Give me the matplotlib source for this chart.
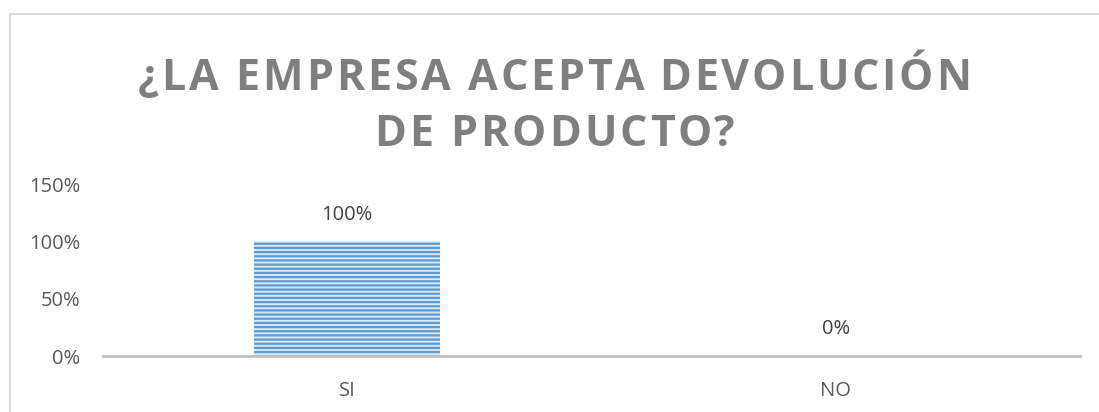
import matplotlib
matplotlib.use("Agg")
import matplotlib.pyplot as plt
from matplotlib.lines import Line2D
from matplotlib.transforms import IdentityTransform

categories = ["SI", "NO"]
values = [1.00, 0.00]
value_labels = ["100%", "0%"]
yticks = [0, 0.5, 1.0, 1.5]
ytick_labels = ["0%", "50%", "100%", "150%"]
title_lines = ["¿LA EMPRESA ACEPTA DEVOLUCIÓN", "DE PRODUCTO?"]

plt.rcParams['font.family'] = ['Open Sans', 'DejaVu Sans']
plt.rcParams['hatch.linewidth'] = 1.6
plt.rcParams['hatch.color'] = '#5b9bd5'

W, H = 1099, 412
fig = plt.figure(figsize=(W / 100, H / 100), dpi=100)
fig.patch.set_facecolor('white')

# outer chart frame
fig.add_artist(Line2D([9.5 / W, 9.5 / W], [0, 1 - 14 / H], transform=fig.transFigure,
                      color='#d9d9d9', lw=1.5))
fig.add_artist(Line2D([9.5 / W, 1], [1 - 14 / H, 1 - 14 / H], transform=fig.transFigure,
                      color='#d9d9d9', lw=1.5))

left, right = 103 / W, 1080 / W
bottom, top = 1 - 356 / H, 1 - 184 / H
ax = fig.add_axes([left, bottom, right - left, top - bottom])

x = list(range(len(categories)))
ax.bar(x, values, width=0.38, color='#dbe8f6', edgecolor='#5b9bd5',
       hatch='----', linewidth=0, zorder=2)

ax.set_xlim(-0.5, len(categories) - 0.5)
ax.set_ylim(0, 1.5)
ax.set_yticks(yticks)
ax.set_yticklabels(ytick_labels)
ax.set_xticks(x)
ax.set_xticklabels(categories)
ax.tick_params(axis='both', length=0, labelsize=14.5, colors='#595959')
ax.tick_params(axis='y', pad=16.5)
ax.tick_params(axis='x', pad=18)

for s in ['top', 'right', 'left']:
    ax.spines[s].set_visible(False)
ax.spines['bottom'].set_color('#bfbfbf')
ax.spines['bottom'].set_linewidth(2)

for xi, v, lab in zip(x, values, value_labels):
    ax.annotate(lab, (xi, v), xytext=(0, 12), textcoords='offset points',
                ha='center', va='bottom', fontsize=14.5, color='#404040')

# letter-spaced title, drawn character by character
renderer = fig.canvas.get_renderer()
tprops = dict(fontsize=31, fontweight='bold', color='#7f7f7f')


def text_width(s):
    t = fig.text(0, 0, s + "|", transform=IdentityTransform(), **tprops)
    w = t.get_window_extent(renderer).width
    t.remove()
    t2 = fig.text(0, 0, "|", transform=IdentityTransform(), **tprops)
    w2 = t2.get_window_extent(renderer).width
    t2.remove()
    return w - w2


spacing = 3.0
cx = W / 2 + 5
baselines = [H - 90, H - 146]  # pixel baselines (from bottom)
for line, base in zip(title_lines, baselines):
    total = text_width(line) + spacing * (len(line) - 1)
    x0 = cx - total / 2
    for i, ch in enumerate(line):
        if ch == " ":
            continue
        xi = x0 + text_width(line[:i]) + spacing * i
        fig.text(xi, base, ch, transform=IdentityTransform(), ha='left',
                 va='baseline', **tprops)

fig.savefig('out.png', dpi=100)
